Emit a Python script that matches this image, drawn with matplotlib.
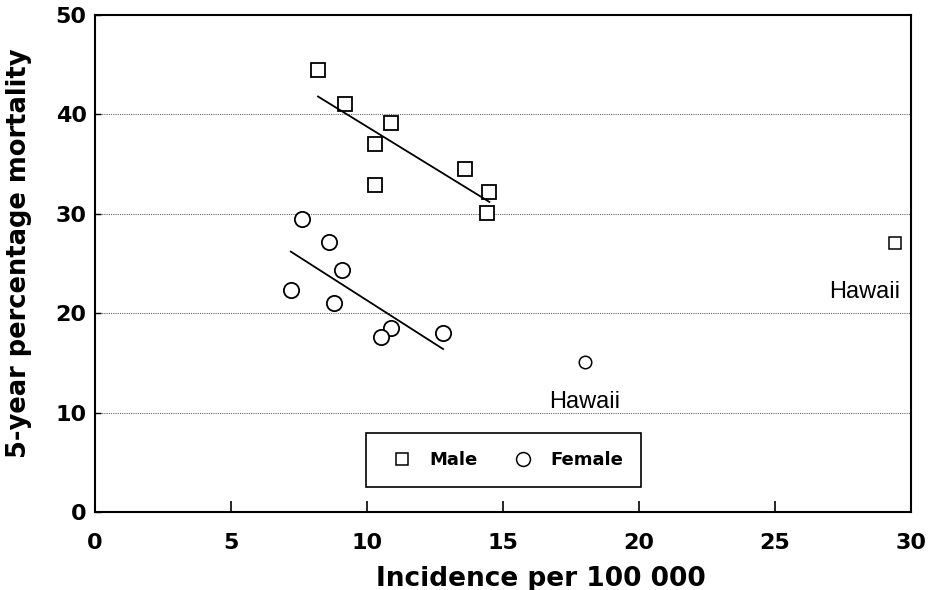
import matplotlib
matplotlib.use("Agg")
import matplotlib.pyplot as plt
from matplotlib.lines import Line2D

plt.rcParams['font.family'] = ['DejaVu Sans']

# incidence per 100 000 vs 5-year percentage mortality
male_x = [8.2, 9.2, 10.9, 10.3, 10.3, 13.6, 14.5, 14.4]
male_y = [44.5, 41.0, 39.1, 37.0, 32.9, 34.5, 32.2, 30.1]
female_x = [7.6, 8.6, 9.1, 7.2, 8.8, 10.9, 10.5, 12.8]
female_y = [29.5, 27.2, 24.4, 22.3, 21.0, 18.5, 17.6, 18.0]

# Hawaii outliers, not part of the fitted lines
hawaii_male = (29.4, 27.1)
hawaii_female = (18.0, 15.1)

# regression line end points
male_fit_x = [8.2, 14.5]
male_fit_y = [41.8, 31.2]
female_fit_x = [7.2, 12.8]
female_fit_y = [26.2, 16.4]

fig = plt.figure(figsize=(9.31, 5.90), dpi=100)
ax = fig.add_axes([0.102, 0.132, 0.8765, 0.8426])

for gy in [10, 20, 30, 40]:
    ax.axhline(gy, color='0.4', lw=0.8, ls=(0, (1, 1)), zorder=0)

ax.plot(male_x, male_y, ls='none', marker='s', ms=9.5, mfc='white', mec='black', mew=1.3)
ax.plot(female_x, female_y, ls='none', marker='o', ms=11, mfc='white', mec='black', mew=1.3)
ax.plot(male_fit_x, male_fit_y, color='black', lw=1.3)
ax.plot(female_fit_x, female_fit_y, color='black', lw=1.3)

ax.plot(*hawaii_male, ls='none', marker='s', ms=8, mfc='white', mec='black', mew=1.1)
ax.plot(*hawaii_female, ls='none', marker='o', ms=9, mfc='white', mec='black', mew=1.1)
ax.text(hawaii_male[0] - 1.1, 22.1, 'Hawaii', ha='center', va='center',
        fontsize=17, family='Liberation Sans')
ax.text(hawaii_female[0], 11.1, 'Hawaii', ha='center', va='center',
        fontsize=17, family='Liberation Sans')

ax.set_xlim(0, 30)
ax.set_ylim(0, 50)
ax.set_xticks([0, 5, 10, 15, 20, 25, 30])
ax.set_yticks([0, 10, 20, 30, 40, 50])
ax.tick_params(axis='x', direction='in', length=8, width=1.2, labelsize=16, pad=15)
ax.tick_params(axis='y', direction='in', length=4, width=1.0, labelsize=16, pad=6)
for lab in ax.get_xticklabels() + ax.get_yticklabels():
    lab.set_fontweight('bold')
for s in ax.spines.values():
    s.set_linewidth(1.5)

ax.set_xlabel('Incidence per 100 000', fontsize=19, fontweight='bold')
ax.set_ylabel('5-year percentage mortality', fontsize=18.5, fontweight='bold')
ax.xaxis.set_label_coords(0.547, -0.108)
ax.yaxis.set_label_coords(-0.077, 0.52)

handles = [
    Line2D([], [], ls='none', marker='s', ms=9, mfc='white', mec='black', mew=1.1, label='Male'),
    Line2D([], [], ls='none', marker='o', ms=10, mfc='white', mec='black', mew=1.1, label='Female'),
]
leg = ax.legend(handles=handles, ncol=2, loc='lower left',
                bbox_to_anchor=(0.332, 0.05, 0.337, 0.11), mode='expand',
                borderaxespad=0, frameon=True, fancybox=False, edgecolor='black',
                framealpha=1, prop={'weight': 'bold', 'size': 13},
                handletextpad=0.5, columnspacing=1.2, borderpad=1.0)
leg.get_frame().set_linewidth(1.2)

fig.savefig('out.png', dpi=100)
